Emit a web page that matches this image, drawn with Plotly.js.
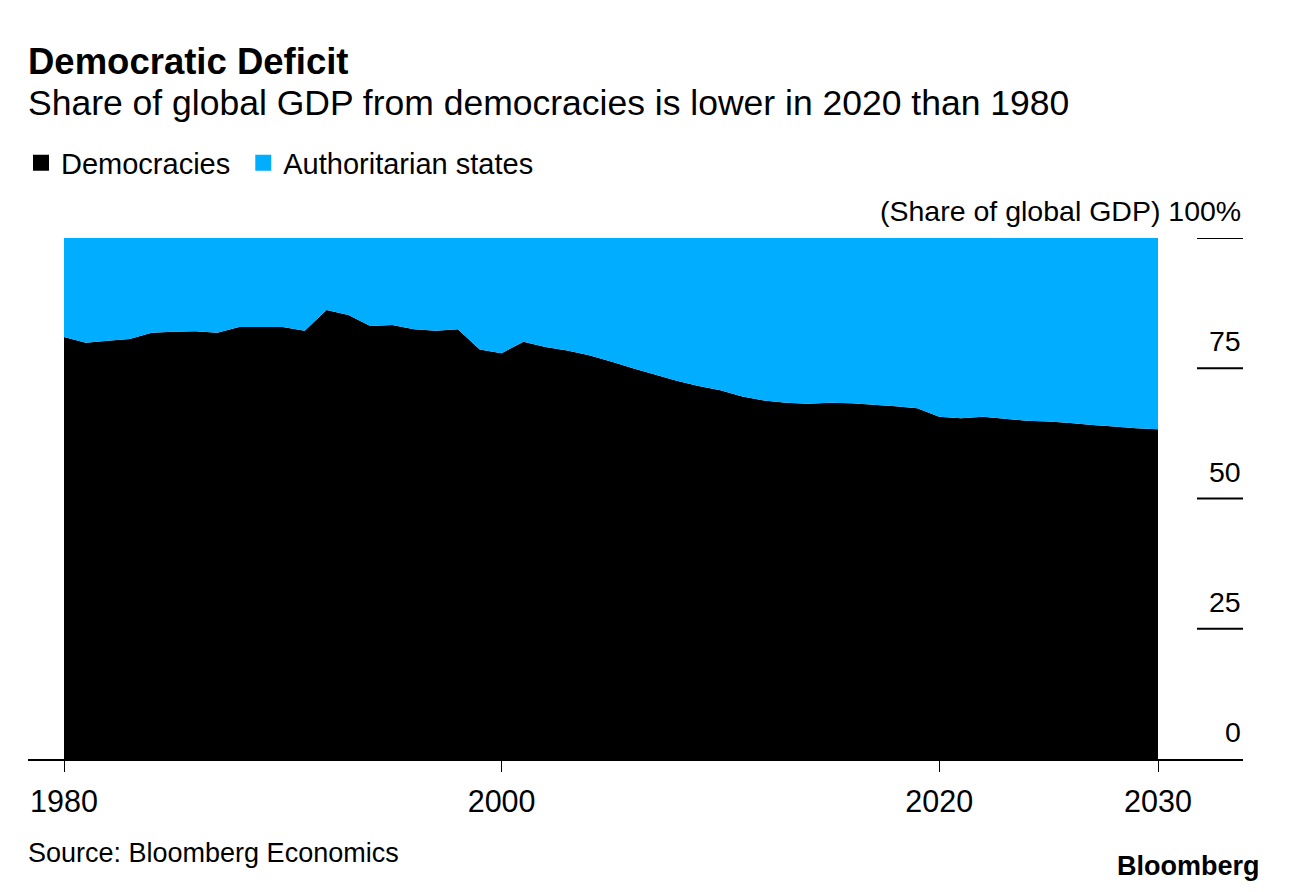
<!DOCTYPE html>
<html>
<head>
<meta charset="utf-8">
<script src="https://cdn.plot.ly/plotly-3.0.1.min.js"></script>
<style>
  html, body { margin: 0; padding: 0; background: #fff; }
  #chart { width: 1290px; height: 892px; }
</style>
</head>
<body>
<div id="chart"></div>
<script>
// ---- Data ----
const years = [1980,1981,1982,1983,1984,1985,1986,1987,1988,1989,
               1990,1991,1992,1993,1994,1995,1996,1997,1998,1999,
               2000,2001,2002,2003,2004,2005,2006,2007,2008,2009,
               2010,2011,2012,2013,2014,2015,2016,2017,2018,2019,
               2020,2021,2022,2023,2024,2025,2026,2027,2028,2029,2030];
const democracies = [81.0,79.9,80.3,80.6,81.8,82.0,82.1,81.8,82.9,82.9,
                     82.9,82.2,86.2,85.2,83.1,83.3,82.5,82.2,82.5,78.6,
                     77.9,80.1,79.1,78.4,77.5,76.3,75.0,73.8,72.6,71.6,
                     70.8,69.6,68.8,68.4,68.2,68.4,68.3,68.0,67.7,67.3,
                     65.7,65.4,65.7,65.3,64.9,64.8,64.5,64.1,63.8,63.5,63.3];
const authoritarian = [19.0,20.1,19.7,19.4,18.2,18.0,17.9,18.2,17.1,17.1,
                       17.1,17.8,13.8,14.8,16.9,16.7,17.5,17.8,17.5,21.4,
                       22.1,19.9,20.9,21.6,22.5,23.7,25.0,26.2,27.4,28.4,
                       29.2,30.4,31.2,31.6,31.8,31.6,31.7,32.0,32.3,32.7,
                       34.3,34.6,34.3,34.7,35.1,35.2,35.5,35.9,36.2,36.5,36.7];
const seriesNames = ["Democracies", "Authoritarian states"];
const xTickVals = [1980, 2000, 2020, 2030];
const xTickText = ["1980", "2000", "2020", "2030"];
const yTickVals = [0, 25, 50, 75, 100];
const yTickText = ["0", "25", "50", "75", "(Share of global GDP) 100%"];

// ---- Styles ----
const BLACK = "#000000";
const BLUE = "#00adfe";
const FONT = "Liberation Sans, Arial, Helvetica, sans-serif";

const traces = [
  {
    x: years, y: democracies, name: seriesNames[0],
    type: "scatter", mode: "none", stackgroup: "one",
    fillcolor: BLACK, showlegend: false, hoverinfo: "x+y"
  },
  {
    x: years, y: authoritarian, name: seriesNames[1],
    type: "scatter", mode: "none", stackgroup: "one",
    fillcolor: BLUE, showlegend: false, hoverinfo: "x+y"
  },
  // legend-only entries (square swatches)
  {
    x: [null], y: [null], name: seriesNames[0] + "\u00a0", type: "scatter", mode: "markers",
    marker: { symbol: "square", color: BLACK, size: 18 }, showlegend: true
  },
  {
    x: [null], y: [null], name: seriesNames[1], type: "scatter", mode: "markers",
    marker: { symbol: "square", color: BLUE, size: 18 }, showlegend: true
  }
];

// plot area: paper x from 28px to 1243px; 1980 at 64px, 2030 at 1158px
const pxPerYear = (1158 - 64) / 50;
const xMin = 1980 - (64 - 28) / pxPerYear;
const xMax = 2030 + (1243 - 1158) / pxPerYear;
const tickStartPaper = (1197 - 28) / (1243 - 28);

const shapes = yTickVals.filter(v => v > 0).map(v => ({
  type: "line", xref: "paper", yref: "y",
  x0: tickStartPaper, x1: 1, y0: v, y1: v,
  line: { color: BLACK, width: 2 }
}));

const annotations = yTickVals.map((v, i) => ({
  xref: "paper", yref: "y", x: 1, y: v,
  xanchor: "right", yanchor: "bottom", yshift: 9,
  text: yTickText[i], showarrow: false,
  font: { family: FONT, size: 28.5, color: BLACK }
}));

annotations.push({
  xref: "paper", yref: "paper", x: 0, y: (759 - 103) / 521, xshift: -2,
  xanchor: "left", yanchor: "middle",
  text: "Share of global GDP from democracies is lower in 2020 than 1980",
  showarrow: false, font: { family: FONT, size: 35.5, color: BLACK }
});
annotations.push({
  xref: "paper", yref: "paper", x: 0, y: -(853 - 759) / 521, xshift: -2,
  xanchor: "left", yanchor: "middle",
  text: "Source: Bloomberg Economics",
  showarrow: false, font: { family: FONT, size: 27, color: BLACK }
});
annotations.push({
  xref: "paper", yref: "paper", x: (1262 - 28) / 1215, y: -(866 - 759) / 521,
  xanchor: "right", yanchor: "middle",
  text: "<b>Bloomberg</b>",
  showarrow: false, font: { family: "Liberation Sans Narrow, Arial Narrow, " + FONT, size: 27, color: BLACK }
});

const layout = {
  width: 1290, height: 892,
  paper_bgcolor: "#ffffff", plot_bgcolor: "#ffffff",
  margin: { l: 28, r: 47, t: 238, b: 133, pad: 0 },
  font: { family: FONT, color: BLACK },
  title: {
    text: "<b>Democratic Deficit</b>",
    x: 28 / 1290, xanchor: "left", xref: "container",
    y: 1 - 61 / 892, yanchor: "middle", yref: "container",
    font: { family: FONT, size: 36.5, color: BLACK }
  },
  showlegend: true,
  legend: {
    orientation: "h", x: -7 / 1215, xanchor: "left",
    y: (759 - 163) / 521, yanchor: "middle", traceorder: "normal",
    font: { family: FONT, size: 29, color: BLACK },
    bgcolor: "rgba(0,0,0,0)", itemclick: false, itemdoubleclick: false
  },
  xaxis: {
    range: [xMin, xMax], showgrid: false, zeroline: false,
    showline: true, linecolor: BLACK, linewidth: 2,
    ticks: "outside", ticklen: 11, tickwidth: 1, tickcolor: BLACK,
    tickvals: xTickVals, ticktext: xTickText, ticklabelstandoff: 3,
    tickfont: { family: FONT, size: 30.5, color: BLACK }, fixedrange: true
  },
  yaxis: {
    range: [0, 100], showgrid: false, zeroline: false, showline: false,
    showticklabels: false, ticks: "", fixedrange: true
  },
  shapes: shapes,
  annotations: annotations
};

Plotly.newPlot("chart", traces, layout, { displayModeBar: false, staticPlot: true });
</script>
</body>
</html>
